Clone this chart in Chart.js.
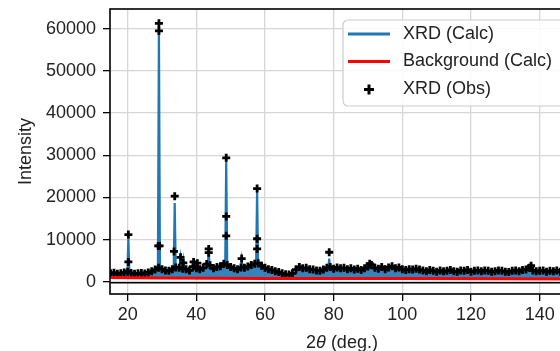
<!DOCTYPE html>
<html>
<head>
<meta charset="utf-8">
<script src="https://cdn.jsdelivr.net/npm/chart.js@4.4.1/dist/chart.umd.min.js"></script>
<style>
  html, body { margin: 0; padding: 0; background: #fff; overflow: hidden; }
  #wrap { position: relative; width: 590px; height: 351px; }
</style>
</head>
<body>
<div id="wrap"><canvas id="xrd"></canvas></div>
<script>
// ---- data ----
const calcX = [
  15, 16, 17, 18, 19, 19.9, 20.2, 20.5, 21, 22,
  23, 24, 25, 26, 27, 28, 28.8, 29.1, 29.4, 30,
  31, 32, 33, 33.4, 33.7, 34, 35, 35.4, 35.7, 35.9,
  36.2, 36.5, 37, 38, 39, 40, 40.3, 40.6, 41, 42,
  43, 43.3, 43.6, 43.9, 45, 46, 47, 48, 48.4, 48.7,
  49, 50, 51, 52, 52.9, 53.2, 53.5, 54, 55, 56,
  57, 57.4, 57.7, 58, 59, 60, 61, 62, 63, 64,
  65, 66, 67, 68, 69, 70, 71, 72, 73, 74,
  75, 76, 77, 78, 78.4, 78.7, 79, 80, 81, 82,
  83, 84, 85, 86, 87, 88, 89, 90, 90.5, 91,
  92, 93, 94, 95, 96, 97, 98, 99, 100, 101,
  102, 103, 104, 105, 106, 107, 108, 109, 110, 111,
  112, 113, 114, 115, 116, 117, 118, 119, 120, 121,
  122, 123, 124, 125, 126, 127, 128, 129, 130, 131,
  132, 133, 134, 135, 136, 137, 137.5, 138, 139, 140,
  141, 142, 143, 144, 145, 146, 147, 148, 149, 150
];
const calcY = [
  1600, 1700, 1550, 1650, 1750, 1800, 10500, 1800, 1700, 1550,
  1600, 1700, 1600, 1800, 2000, 2400, 2800, 60500, 2800, 2500,
  2200, 2100, 2500, 2800, 18700, 2900, 2800, 5500, 2800, 2700,
  4800, 2600, 2500, 2200, 2900, 2700, 4000, 2600, 2500, 2800,
  3400, 3400, 7300, 3200, 2700, 2900, 3100, 3500, 3500, 29000,
  3400, 2900, 2700, 2500, 2800, 5000, 2800, 2800, 3000, 3400,
  3600, 3700, 21800, 3600, 3200, 2800, 2500, 2300, 2100, 1900,
  1600, 1400, 1300, 1600, 2300, 2900, 2600, 2700, 2400, 2300,
  2100, 2000, 2300, 2600, 2800, 5500, 2800, 2500, 2800, 2600,
  2700, 2400, 2600, 2300, 2500, 2200, 2600, 2900, 3400, 3300,
  2700, 2500, 2900, 2400, 2800, 3100, 2600, 2800, 2400, 2200,
  2400, 2300, 2500, 2400, 2200, 2000, 2300, 2100, 1900, 2200,
  2000, 2100, 2300, 2000, 1900, 2200, 2100, 2300, 1900, 2100,
  2200, 2000, 2200, 2100, 1900, 2000, 2200, 2100, 1900, 1800,
  2100, 2200, 2000, 2300, 2400, 2600, 3200, 2200, 2000, 2100,
  2200, 1900, 2100, 2000, 2200, 1900, 2100, 2000, 1900, 1800
];

const obsX = [
  15, 16, 17, 18, 19, 20, 21, 22, 23, 24,
  25, 26, 27, 28, 29, 30, 31, 32, 33, 34,
  35, 36, 37, 38, 39, 40, 41, 42, 43, 44,
  45, 46, 47, 48, 49, 50, 51, 52, 53, 54,
  55, 56, 57, 58, 59, 60, 61, 62, 63, 64,
  65, 66, 67, 68, 69, 70, 71, 72, 73, 74,
  75, 76, 77, 78, 79, 80, 81, 82, 83, 84,
  85, 86, 87, 88, 89, 90, 91, 92, 93, 94,
  95, 96, 97, 98, 99, 100, 101, 102, 103, 104,
  105, 106, 107, 108, 109, 110, 111, 112, 113, 114,
  115, 116, 117, 118, 119, 120, 121, 122, 123, 124,
  125, 126, 127, 128, 129, 130, 131, 132, 133, 134,
  135, 136, 137, 138, 139, 140, 141, 142, 143, 144,
  145, 146, 147, 148, 149, 150
];
const obsY = [
  2000, 2150, 1900, 2050, 2200, 2400, 2100, 1900, 2000, 2100,
  1950, 2200, 2500, 2900, 3300, 3000, 2700, 2600, 3000, 3400,
  3300, 3100, 3000, 2700, 3600, 3200, 3000, 3300, 4200, 3900,
  3200, 3500, 3700, 4300, 4000, 3500, 3200, 3000, 3400, 3300,
  3600, 4000, 4300, 4400, 3800, 3300, 3000, 2800, 2500, 2300,
  2000, 1800, 1700, 2000, 2900, 3500, 3200, 3300, 3000, 2900,
  2700, 2600, 2900, 3300, 3500, 3100, 3400, 3200, 3300, 3000,
  3200, 2900, 3100, 2800, 3200, 3600, 4000, 3300, 3100, 3500,
  3000, 3400, 3700, 3200, 3400, 3000, 2800, 3000, 2900, 3100,
  2900, 2700, 2500, 2800, 2600, 2400, 2700, 2500, 2600, 2800,
  2500, 2400, 2700, 2600, 2800, 2400, 2600, 2700, 2500, 2700,
  2600, 2400, 2500, 2700, 2600, 2400, 2300, 2600, 2700, 2500,
  2800, 2900, 3300, 2700, 2500, 2600, 2700, 2400, 2600, 2500,
  2700, 2400, 2600, 2500, 2400, 2300
];
// observed points sitting on the peaks
const peakX = [20.2, 20.2, 28.9, 29.3, 29.1, 29.1, 33.7, 33.5, 35.4, 36.2, 39.2, 40.3,
               43.6, 43.6, 48.7, 48.7, 48.7, 53.2, 57.7, 57.7, 57.7, 78.7, 90.5, 137.5];
const peakY = [11200, 4700, 8500, 8500, 59500, 61300, 20300, 7200, 5800, 4500, 4700, 4400,
               7800, 6900, 29400, 15500, 10900, 5500, 22100, 10200, 7800, 7000, 4300, 3800];

const bgX = [15, 30, 60, 100, 150];
const bgY = [1000, 900, 800, 750, 680];

const diffX = [15, 150];
const diffY = [-250, -250];

const xTicks = [20, 40, 60, 80, 100, 120, 140];
const yTicks = [0, 10000, 20000, 30000, 40000, 50000, 60000];

// ---- drawing ----
const FONT = '"Liberation Sans", Arial, Helvetica, sans-serif';
const BLUE = '#1f77b4';
const RED = '#ff0000';

const pts = (xs, ys) => xs.map((x, i) => ({ x: x, y: ys[i] }));

// frame, x-axis title (italic theta) and the legend box
const extras = {
    id: 'extras',
    afterDraw(chart) {
        const ctx = chart.ctx;
        const a = chart.chartArea;
        ctx.save();

        ctx.strokeStyle = '#000';
        ctx.lineWidth = 1.6;
        ctx.strokeRect(a.left, a.top, a.right - a.left, a.bottom - a.top);

        // x title: 2θ (deg.)
        const parts = [
            { t: '2', f: '18px ' + FONT },
            { t: 'θ', f: 'italic 18px ' + FONT },
            { t: ' (deg.)', f: '18px ' + FONT }
        ];
        let total = 0;
        parts.forEach(p => { ctx.font = p.f; p.w = ctx.measureText(p.t).width; total += p.w; });
        let tx = (a.left + a.right) / 2 - total / 2;
        ctx.fillStyle = '#222';
        ctx.textBaseline = 'middle';
        ctx.textAlign = 'left';
        parts.forEach(p => { ctx.font = p.f; ctx.fillText(p.t, tx, 343); tx += p.w; });

        // legend
        const lx = 343, ly = 20, lw = 240, lh = 86;
        ctx.beginPath();
        if (ctx.roundRect) ctx.roundRect(lx, ly, lw, lh, 5); else ctx.rect(lx, ly, lw, lh);
        ctx.fillStyle = 'rgba(255,255,255,0.85)';
        ctx.fill();
        ctx.strokeStyle = '#cccccc';
        ctx.lineWidth = 1.2;
        ctx.stroke();

        const rows = [34, 61.5, 89.5];
        const ds = chart.data.datasets;
        ctx.lineWidth = 3;
        ctx.strokeStyle = BLUE;
        ctx.beginPath(); ctx.moveTo(348, rows[0]); ctx.lineTo(390, rows[0]); ctx.stroke();
        ctx.strokeStyle = RED;
        ctx.beginPath(); ctx.moveTo(348, rows[1]); ctx.lineTo(390, rows[1]); ctx.stroke();
        ctx.strokeStyle = '#000';
        ctx.beginPath();
        ctx.moveTo(364, rows[2]); ctx.lineTo(374, rows[2]);
        ctx.moveTo(369, rows[2] - 5); ctx.lineTo(369, rows[2] + 5);
        ctx.stroke();

        ctx.font = '18px ' + FONT;
        ctx.fillStyle = '#222';
        ctx.fillText(ds[0].label, 403, rows[0]);
        ctx.fillText(ds[1].label, 403, rows[1]);
        ctx.fillText(ds[2].label, 403, rows[2]);

        ctx.restore();
    }
};

new Chart(document.getElementById('xrd'), {
    type: 'line',
    data: {
        datasets: [
            {
                label: 'XRD (Calc)',
                data: pts(calcX, calcY),
                borderColor: BLUE,
                backgroundColor: 'rgba(31,119,180,0.9)',
                borderWidth: 2.2,
                pointRadius: 0,
                fill: '+1',
                order: 3
            },
            {
                label: 'Background (Calc)',
                data: pts(bgX, bgY),
                borderColor: RED,
                borderWidth: 3,
                pointRadius: 0,
                fill: false,
                order: 0
            },
            {
                label: 'XRD (Obs)',
                data: pts(obsX, obsY).concat(pts(peakX, peakY)),
                showLine: false,
                pointStyle: 'cross',
                pointRadius: 4,
                pointBorderWidth: 2.8,
                borderColor: '#000',
                pointBorderColor: '#000',
                order: 1
            },
            {
                label: 'Difference',
                data: pts(diffX, diffY),
                borderColor: '#000',
                borderWidth: 1.5,
                pointRadius: 0,
                fill: false,
                order: 2
            }
        ]
    },
    options: {
        responsive: true,
        maintainAspectRatio: false,
        animation: false,
        layout: { padding: { top: 9, right: 16, left: 0, bottom: 0 } },
        plugins: {
            legend: { display: false },
            tooltip: { enabled: false }
        },
        scales: {
            x: {
                type: 'linear',
                min: 14.85,
                max: 150,
                border: { display: false },
                grid: { color: '#d6d6d6', lineWidth: 1.3, tickColor: '#000', tickLength: 7, tickWidth: 1.3 },
                afterBuildTicks: s => { s.ticks = xTicks.map(v => ({ value: v })); },
                ticks: {
                    padding: 3,
                    maxRotation: 0,
                    color: '#222',
                    font: { family: FONT, size: 18 },
                    callback: v => String(v)
                },
                afterFit: s => { s.height = 57; s.paddingLeft = 0; s.paddingRight = 0; }
            },
            y: {
                type: 'linear',
                min: -2900,
                max: 64700,
                border: { display: false },
                grid: { color: '#d6d6d6', lineWidth: 1.3, tickColor: '#000', tickLength: 7, tickWidth: 1.3 },
                afterBuildTicks: s => { s.ticks = yTicks.map(v => ({ value: v })); },
                ticks: {
                    padding: 7,
                    color: '#222',
                    font: { family: FONT, size: 18 },
                    callback: v => String(v)
                },
                title: {
                    display: true,
                    text: 'Intensity',
                    color: '#222',
                    padding: { top: 15, bottom: 0 },
                    font: { family: FONT, size: 18 }
                },
                afterFit: s => { s.width = 110; s.paddingTop = 0; s.paddingBottom = 0; }
            }
        }
    },
    plugins: [extras]
});
</script>
</body>
</html>
